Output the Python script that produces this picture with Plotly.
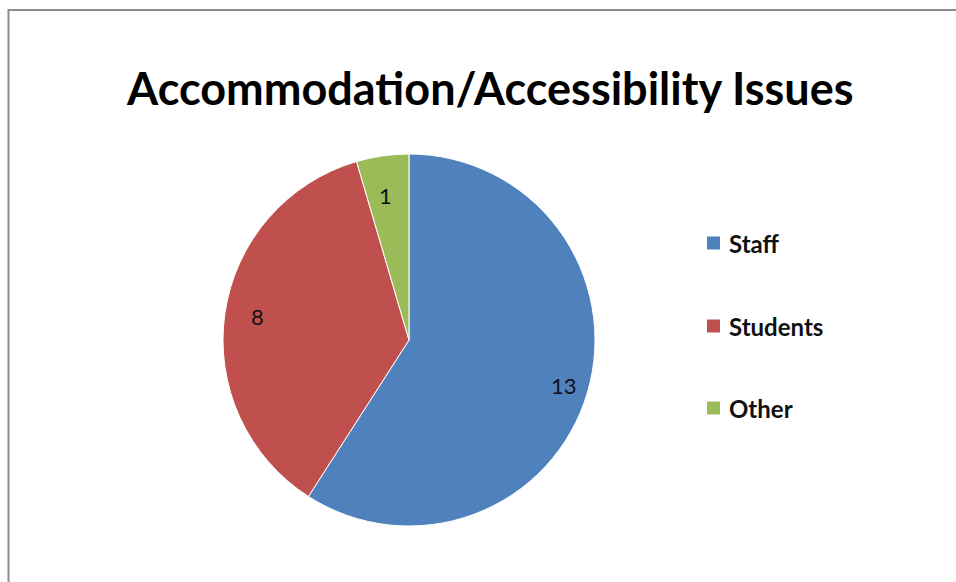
import math
import plotly.graph_objects as go

categories = ["Staff", "Students", "Other"]
values = [13, 8, 1]
colors = ["#4F81BD", "#C0504D", "#9BBB59"]
title_text = "Accommodation/Accessibility Issues"

W, H = 956, 582
cx, cy, r = 409, 340, 186  # pie centre & radius in px

fig = go.Figure(go.Pie(
    labels=categories, values=values, sort=False, direction="clockwise",
    rotation=0, marker=dict(colors=colors, line=dict(color="white", width=1)),
    textinfo="none", showlegend=False, hoverinfo="label+value",
    domain=dict(x=[(cx - r) / W, (cx + r) / W], y=[1 - (cy + r) / H, 1 - (cy - r) / H]),
))

annotations = []
total = sum(values)
cum = 0
for lab, v in zip(categories, values):
    mid = (cum + v / 2) / total * 2 * math.pi
    cum += v
    rr = 0.87 * r
    px = cx + math.sin(mid) * rr
    py = cy - math.cos(mid) * rr
    annotations.append(dict(x=px / W, y=1 - py / H, xref="paper", yref="paper",
                            text=str(v), showarrow=False,
                            font=dict(family="Lato, Open Sans, sans-serif", size=22, color="#111")))

shapes = [dict(type="rect", xref="paper", yref="paper", x0=8.5 / W, y0=-0.1, x1=1.1, y1=1 - 10 / H,
               line=dict(color="#8c8c8c", width=2), fillcolor="rgba(0,0,0,0)")]

leg_y = [243, 326, 408]
for lab, col, ly in zip(categories, colors, leg_y):
    shapes.append(dict(type="rect", xref="paper", yref="paper",
                       x0=707 / W, x1=720 / W, y0=1 - (ly + 6.5) / H, y1=1 - (ly - 6.5) / H,
                       line=dict(width=0), fillcolor=col))
    annotations.append(dict(x=727 / W, y=1 - ly / H, xref="paper", yref="paper",
                            xanchor="left", yanchor="middle", text="<b>" + lab + "</b>",
                            showarrow=False,
                            font=dict(family="Lato, Open Sans, sans-serif", size=24, color="#111")))

annotations.append(dict(x=489 / W, y=1 - 88 / H, xref="paper", yref="paper",
                        xanchor="center", yanchor="middle", text="<b>" + title_text + "</b>",
                        showarrow=False,
                        font=dict(family="Lato, Open Sans, sans-serif", size=45, color="#000")))

fig.update_layout(width=W, height=H, margin=dict(l=0, r=0, t=0, b=0),
                  paper_bgcolor="white", plot_bgcolor="white",
                  shapes=shapes, annotations=annotations)
fig.write_html("out.html", config={"displayModeBar": False},
               post_script="document.body.style.margin='0';document.body.style.overflow='hidden';")
